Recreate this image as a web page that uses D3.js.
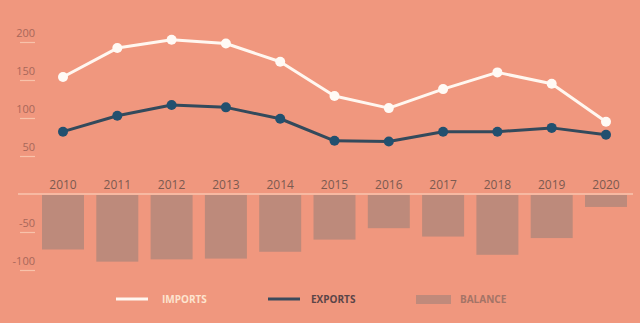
<!DOCTYPE html>
<html><head><meta charset="utf-8">
<script src="https://cdn.jsdelivr.net/npm/d3@7"></script>
<style>
html,body{margin:0;padding:0;background:#f0977e;}
svg{display:block;font-family:"Open Sans",sans-serif;}
</style></head>
<body><svg id="c" width="640" height="323"></svg>
<script>
const years = ["2010","2011","2012","2013","2014","2015","2016","2017","2018","2019","2020"];
const imports = [154,192,203,198,174,129,113,138,160,145,95];
const exports_ = [82,103,117,114,99,70,69,82,82,87,78];
const balance = [-73,-89,-86,-85,-76,-60,-45,-56,-80,-58,-17];
const yTicks = [200,150,100,50,-50,-100];

const svg = d3.select("#c");
const bg = "#f0977e";
svg.append("rect").attr("width",640).attr("height",323).attr("fill",bg);

const x = d3.scalePoint().domain(years).range([63,606]);
const step = x.step();
const y = d3.scaleLinear().domain([0,200]).range([194,42]);

// zero axis line
svg.append("line").attr("x1",18).attr("x2",633).attr("y1",y(0)).attr("y2",y(0))
  .attr("stroke","#f7b9a2").attr("stroke-width",2);

// y ticks
const yt = svg.append("g");
yTicks.forEach(v=>{
  yt.append("text").attr("x",35).attr("y",y(v)-5).attr("text-anchor","end")
    .attr("font-size",11).attr("fill","#a8675a").text(v);
  yt.append("line").attr("x1",20).attr("x2",35).attr("y1",y(v)+0.5).attr("y2",y(v)+0.5)
    .attr("stroke","#f8c2aa").attr("stroke-width",1.2);
});

// bars
const bw = 42;
svg.append("g").selectAll("rect").data(balance).join("rect")
  .attr("x",(d,i)=>x(years[i])-bw/2).attr("width",bw)
  .attr("y",y(0)+1).attr("height",d=>y(d)-y(0)-1)
  .attr("fill","#bd8a7b");

// year labels
svg.append("g").selectAll("text").data(years).join("text")
  .attr("x",d=>x(d)).attr("y",189).attr("text-anchor","middle")
  .attr("font-size",12).attr("fill","#7c5a50").text(d=>d);

// lines
function drawLine(vals, stroke, dot){
  const line = d3.line().x((d,i)=>x(years[i])).y(d=>y(d));
  svg.append("path").datum(vals).attr("d",line).attr("fill","none")
    .attr("stroke",stroke).attr("stroke-width",3).attr("stroke-linejoin","round");
  svg.append("g").selectAll("circle").data(vals).join("circle")
    .attr("cx",(d,i)=>x(years[i])).attr("cy",d=>y(d)).attr("r",5).attr("fill",dot);
}
drawLine(imports,"#fff7f0","#fffaf5");
drawLine(exports_,"#334a5c","#22506f");

// legend
const lg = svg.append("g").attr("font-size",10).attr("font-weight","bold");
lg.append("line").attr("x1",116).attr("x2",148).attr("y1",299).attr("y2",299).attr("stroke","#fff7f0").attr("stroke-width",3);
lg.append("text").attr("x",162).attr("y",303).attr("fill","#fde4cf").text("IMPORTS");
lg.append("line").attr("x1",268).attr("x2",300).attr("y1",299).attr("y2",299).attr("stroke","#3a4a5c").attr("stroke-width",3);
lg.append("text").attr("x",311).attr("y",303).attr("fill","#5a4548").text("EXPORTS");
lg.append("rect").attr("x",416).attr("y",295).attr("width",35).attr("height",9).attr("fill","#c08a7b");
lg.append("text").attr("x",460).attr("y",303).attr("fill","#a47467").text("BALANCE");
</script></body></html>
